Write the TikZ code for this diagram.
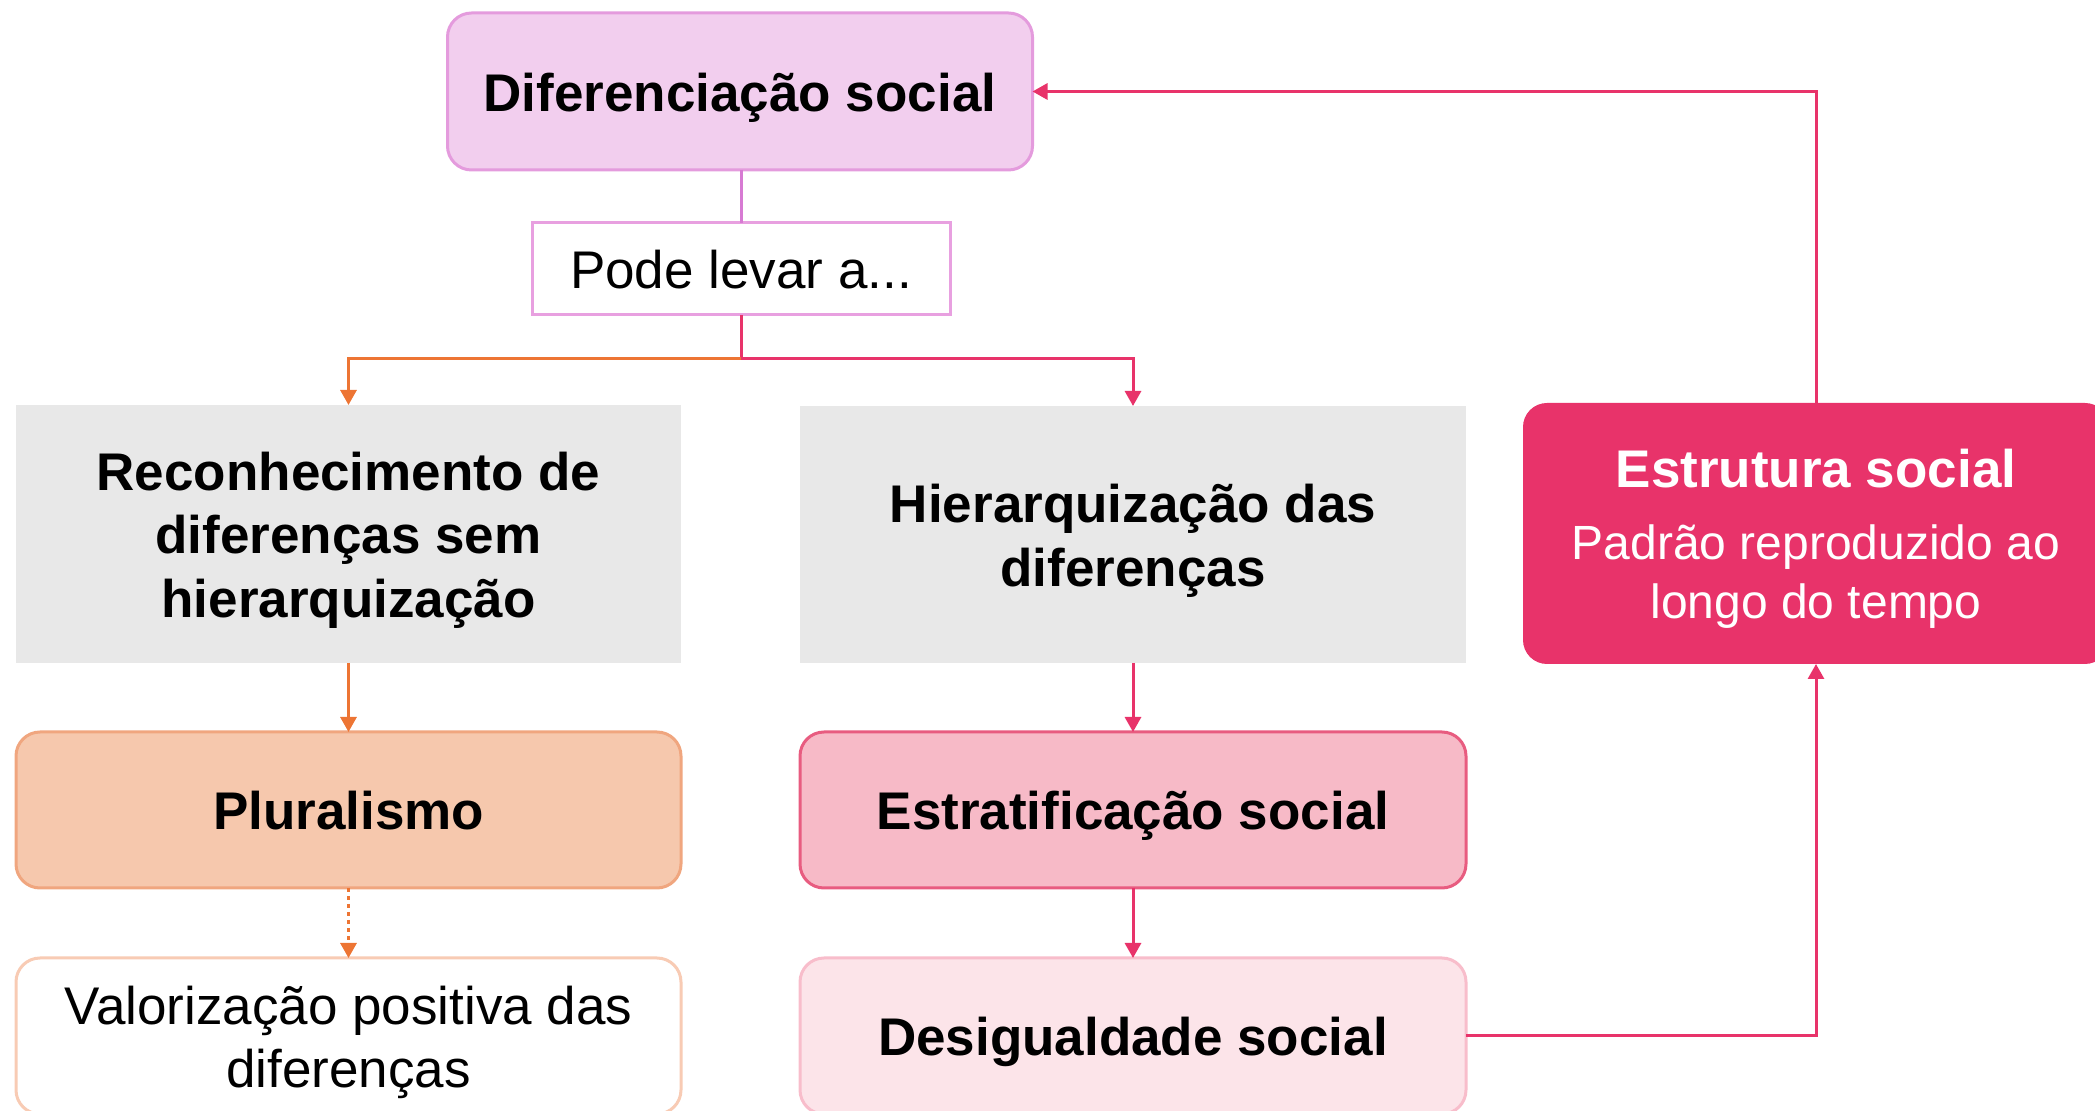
\documentclass[tikz,border=0pt]{standalone}
\usepackage{fontspec}
\setmainfont{Liberation Sans}
\usetikzlibrary{arrows.meta}
\definecolor{difFill}{HTML}{F2CEEE}
\definecolor{difDraw}{HTML}{E49BDD}
\definecolor{violetLink}{HTML}{D77AD3}
\definecolor{podeDraw}{HTML}{E8A0E0}
\definecolor{orangeLink}{HTML}{ED7534}
\definecolor{pinkLink}{HTML}{E8336A}
\definecolor{grayFill}{HTML}{E8E8E8}
\definecolor{plurFill}{HTML}{F6C8AD}
\definecolor{plurDraw}{HTML}{F0A67F}
\definecolor{valDraw}{HTML}{F8CBB4}
\definecolor{stratFill}{HTML}{F7BAC7}
\definecolor{stratDraw}{HTML}{E85C80}
\definecolor{desFill}{HTML}{FCE4E9}
\definecolor{desDraw}{HTML}{F8BDCB}
\newcommand\topst{\rule{0pt}{30pt}}
\newcommand\botst{\rule[-10pt]{0pt}{10pt}}
\tikzset{
  box/.style={inner sep=0pt, outer sep=0pt, align=center, line width=1.5pt},
  roundbox/.style={box, rounded corners=12pt},
  bigbold/.style={font=\bfseries\fontsize{26.5}{31.75}\selectfont},
  bigreg/.style={font=\fontsize{26.5}{31.75}\selectfont},
  link/.style={line width=1.5pt, -{Triangle[length=7.5pt,width=8pt]}},
  plainlink/.style={line width=1.5pt},
}
\begin{document}
\begin{tikzpicture}[x=0.5pt,y=-0.5pt]
\useasboundingbox (0,0) rectangle (2095,1111);
\clip (0,0) rectangle (2095,1111);

\node[roundbox, bigbold, fill=difFill, draw=difDraw, minimum width=292.5pt, minimum height=78.5pt] (dif) at (740,91.5) {\topst Diferenciação social\botst};
\node[box, bigreg, fill=white, draw=podeDraw, minimum width=209pt, minimum height=46pt] (pode) at (741,269) {\topst Pode levar a...\botst};

\node[box, bigbold, fill=grayFill, minimum width=332.5pt, minimum height=129pt] (recon) at (348.5,534) {\topst Reconhecimento de\\diferenças sem\\hierarquização\botst};
\node[box, bigbold, fill=grayFill, minimum width=333pt, minimum height=128.5pt] (hier) at (1133,534.5) {\topst Hierarquização das\\diferenças\botst};

\node[roundbox, fill=pinkLink, text=white, font=\fontsize{24}{29.5}\selectfont, minimum width=293pt, minimum height=130.5pt] (estr) at (1816,533.5)
  {\topst{\bfseries\fontsize{26.5}{30}\selectfont Estrutura social}\\[6.5pt]
   Padrão reproduzido ao\\
   longo do tempo\botst};

\node[roundbox, bigbold, fill=plurFill, draw=plurDraw, minimum width=332.5pt, minimum height=78pt] (plur) at (348.5,810) {\topst Pluralismo\botst};
\node[roundbox, bigbold, fill=stratFill, draw=stratDraw, minimum width=333pt, minimum height=78pt] (strat) at (1133,810) {\topst Estratificação social\botst};

\node[roundbox, bigreg, fill=white, draw=valDraw, minimum width=332.5pt, minimum height=78pt] (valor) at (348.5,1036) {\topst Valorização positiva das\\diferenças\botst};
\node[roundbox, bigbold, fill=desFill, draw=desDraw, minimum width=333pt, minimum height=78pt] (desig) at (1133,1036) {\topst Desigualdade social\botst};

\coordinate (split) at (741,359);

\draw[plainlink, violetLink] (dif.south -| pode.north) -- (pode.north);
\draw[plainlink, pinkLink] (pode.south) -- (split);
\draw[link, orangeLink] (split) -| (recon.north);
\draw[link, pinkLink] (split) -| (hier.north);

\draw[link, orangeLink] (recon) -- (plur);
\draw[link, orangeLink, dash pattern=on 2pt off 2pt] (plur) -- (valor);
\draw[link, pinkLink] (hier) -- (strat);
\draw[link, pinkLink] (strat) -- (desig);

\draw[link, pinkLink] (desig.east) -| (estr.south);
\draw[link, pinkLink] (estr.north) |- (dif.east);
\end{tikzpicture}
\end{document}
